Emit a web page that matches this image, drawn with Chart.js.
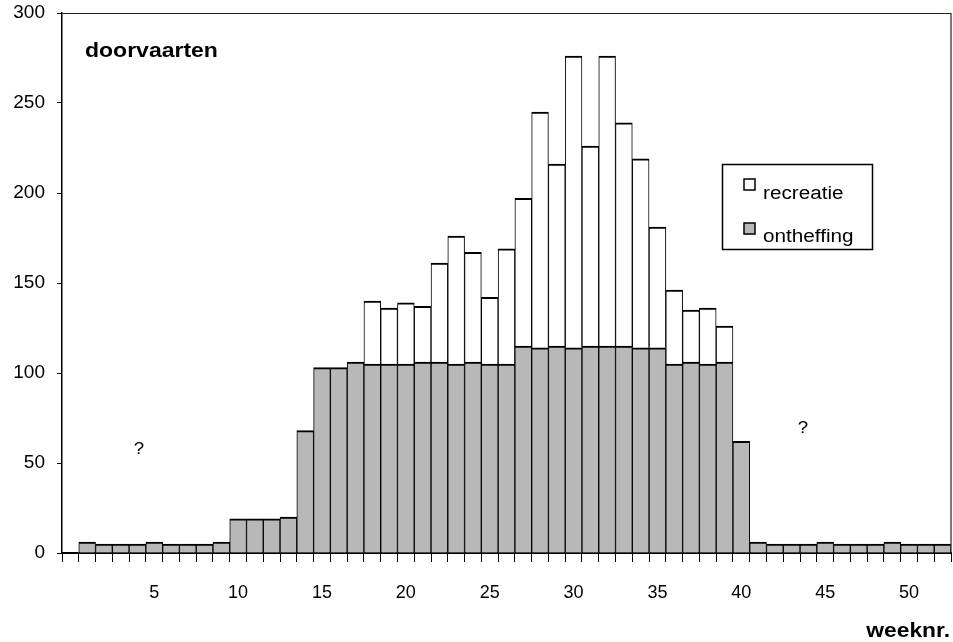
<!DOCTYPE html>
<html><head><meta charset="utf-8">
<script src="https://cdn.jsdelivr.net/npm/chart.js@4"></script>
<style>html,body{margin:0;padding:0;background:#fff}#wrap{width:953px;height:642px}</style>
</head><body><div id="wrap"><canvas id="c" width="953" height="642"></canvas></div>
<script>
const weeks = [0,1,2,3,4,5,6,7,8,9,10,11,12,13,14,15,16,17,18,19,20,21,22,23,24,25,26,27,28,29,30,31,32,33,34,35,36,37,38,39,40,41,42,43,44,45,46,47,48,49,50,51,52];
const ontheffing = [null,
  6,5,5,5,6,5,5,5,6,19,
  19,19,20,68,103,103,106,105,105,105,
  106,106,105,106,105,105,115,114,115,114,
  115,115,115,114,114,105,106,105,106,62,
  6,5,5,5,6,5,5,5,6,5,
  5,5];
const recreatie = [null,
  null,null,null,null,null,null,null,null,null,null,
  null,null,null,null,null,null,null,35,31,34,
  31,55,71,61,37,64,82,131,101,162,
  111,161,124,105,67,41,29,31,20,null,
  null,null,null,null,null,null,null,null,null,null,
  null,null];
const xLabelWeeks = [5,10,15,20,25,30,35,40,45,50];
const yMin = 0, yMax = 300, yStep = 50;

const FONT = '"Liberation Sans", Arial, Helvetica, sans-serif';
Chart.defaults.font.family = FONT;
Chart.defaults.color = '#000';

function sText(ctx, txt, x, y, font, sx, align) {
  ctx.save();
  ctx.font = font;
  ctx.fillStyle = '#000';
  ctx.textBaseline = 'alphabetic';
  ctx.textAlign = align;
  ctx.translate(x, y);
  ctx.scale(sx, 1);
  ctx.fillText(txt, 0, 0);
  ctx.restore();
}

const decor = {
  id: 'decor',
  afterDraw(chart) {
    const ctx = chart.ctx, a = chart.chartArea;
    ctx.save();
    ctx.strokeStyle = '#3a1c1c';
    ctx.lineWidth = 1.2;
    ctx.beginPath();
    ctx.moveTo(a.left, a.top + 0.5);
    ctx.lineTo(a.right, a.top + 0.5);
    ctx.lineTo(a.right, a.bottom);
    ctx.stroke();
    // legend box
    ctx.fillStyle = '#fff';
    ctx.fillRect(722, 164, 150, 85);
    ctx.strokeStyle = '#000';
    ctx.lineWidth = 1.5;
    ctx.strokeRect(722.5, 164.5, 150, 85);
    ctx.fillStyle = '#fff';
    ctx.fillRect(744, 179, 11, 11);
    ctx.strokeRect(744, 179, 11, 11);
    ctx.fillStyle = '#b8b8b8';
    ctx.fillRect(744, 223, 11, 11);
    ctx.strokeRect(744, 223, 11, 11);
    ctx.restore();
    sText(ctx, 'recreatie', 763, 199, '18px ' + FONT, 1.15, 'left');
    sText(ctx, 'ontheffing', 763, 242, '18px ' + FONT, 1.15, 'left');
    sText(ctx, 'doorvaarten', 85, 57, 'bold 20px ' + FONT, 1.15, 'left');
    sText(ctx, 'weeknr.', 950, 637, 'bold 20px ' + FONT, 1.14, 'right');
    sText(ctx, '?', 139, 454, '17px ' + FONT, 1.1, 'center');
    sText(ctx, '?', 803, 433, '17px ' + FONT, 1.1, 'center');
  }
};

new Chart(document.getElementById('c'), {
  type: 'bar',
  data: {
    labels: weeks,
    datasets: [
      { label: 'ontheffing', data: ontheffing, backgroundColor: '#b8b8b8', borderColor: '#000',
        borderWidth: {top: 2, left: 1, right: 1, bottom: 0}, borderSkipped: 'start',
        categoryPercentage: 1, barPercentage: 1 },
      { label: 'recreatie', data: recreatie, backgroundColor: '#fff', borderColor: '#000',
        borderWidth: {top: 2, left: 1, right: 1, bottom: 0}, borderSkipped: 'start',
        categoryPercentage: 1, barPercentage: 1 }
    ]
  },
  options: {
    responsive: false,
    animation: false,
    devicePixelRatio: 1,
    layout: { padding: { top: 13, right: 2, left: 0, bottom: 0 } },
    plugins: { legend: { display: false }, tooltip: { enabled: false } },
    scales: {
      x: {
        type: 'category',
        stacked: true,
        offset: true,
        grid: { offset: true, drawOnChartArea: false, drawTicks: true, tickLength: 9, color: '#000', lineWidth: 1 },
        border: { display: true, color: '#000', width: 2 },
        ticks: {
          autoSkip: false, maxRotation: 0, minRotation: 0, padding: 20,
          font: { size: 18 }, color: '#000',
          callback: function(v, i) { return xLabelWeeks.includes(weeks[i]) ? String(weeks[i]) : ''; }
        },
        afterFit: function(s) { s.height = 89; s.paddingLeft = 0; s.paddingRight = 0; }
      },
      y: {
        stacked: true,
        min: yMin, max: yMax,
        ticks: { stepSize: yStep, padding: 12, font: { size: 19 }, color: '#000' },
        grid: { drawOnChartArea: false, drawTicks: true, tickLength: 5, color: '#000', lineWidth: 1 },
        border: { display: true, color: '#000', width: 1.5 },
        afterFit: function(s) { s.width = 62; s.paddingTop = 0; s.paddingBottom = 0; }
      }
    }
  },
  plugins: [decor]
});
</script>
</body></html>
